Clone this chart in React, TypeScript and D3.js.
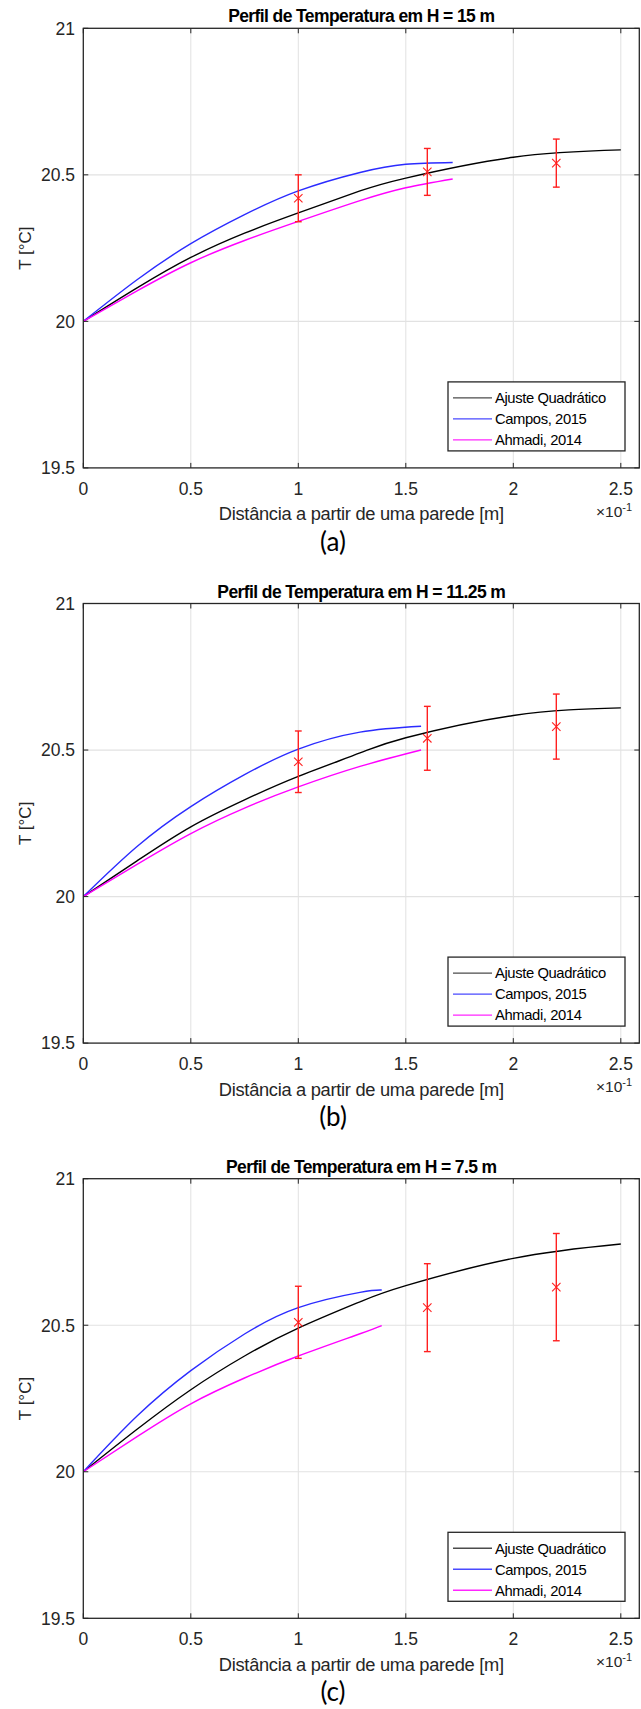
import React from "react";
import * as d3 from "d3";

// ---------- data ----------
const xTicks = [0, 0.5, 1, 1.5, 2, 2.5];
const yTicks = [19.5, 20, 20.5, 21];
const xTickLabels = ["0", "0.5", "1", "1.5", "2", "2.5"];
const yTickLabels = ["19.5", "20", "20.5", "21"];
const seriesNames = ["Ajuste Quadrático", "Campos, 2015", "Ahmadi, 2014"];
const titles = [
  "Perfil de Temperatura em H = 15 m",
  "Perfil de Temperatura em H = 11.25 m",
  "Perfil de Temperatura em H = 7.5 m",
];
const panelLabels = ["(a)", "(b)", "(c)"];
const xLabel = "Distância a partir de uma parede [m]";
const yLabel = "T [°C]";

// (a) H = 15 m
const quadX_a = [0, 0.25, 0.5, 0.75, 1, 1.287, 1.5, 2, 2.5];
const quadT_a = [20, 20.114, 20.218, 20.301, 20.37, 20.445, 20.489, 20.56, 20.585];
const camposX_a = [0, 0.25, 0.5, 0.75, 1, 1.287, 1.5, 1.718];
const camposT_a = [20, 20.142, 20.265, 20.364, 20.445, 20.508, 20.536, 20.542];
const ahmadiX_a = [0, 0.25, 0.5, 0.75, 1, 1.287, 1.5, 1.718];
const ahmadiT_a = [20, 20.104, 20.2, 20.276, 20.341, 20.412, 20.456, 20.486];
const expT_a = [20.42, 20.51, 20.54];
const expErr_a = [0.08, 0.08, 0.082];

// (b) H = 11.25 m
const quadX_b = [0, 0.25, 0.5, 0.75, 1, 1.287, 1.5, 2, 2.5];
const quadT_b = [20, 20.122, 20.238, 20.33, 20.41, 20.49, 20.542, 20.618, 20.644];
const camposX_b = [0, 0.25, 0.5, 0.75, 1, 1.287, 1.571];
const camposT_b = [20, 20.171, 20.307, 20.416, 20.503, 20.561, 20.581];
const ahmadiX_b = [0, 0.25, 0.5, 0.75, 1, 1.287, 1.571];
const ahmadiT_b = [20, 20.11, 20.215, 20.302, 20.374, 20.444, 20.5];
const expT_b = [20.46, 20.54, 20.58];
const expErr_b = [0.105, 0.109, 0.111];

// (c) H = 7.5 m
const quadX_c = [0, 0.25, 0.5, 0.75, 1, 1.287, 1.5, 2, 2.5];
const quadT_c = [20, 20.145, 20.28, 20.395, 20.49, 20.58, 20.635, 20.728, 20.777];
const camposX_c = [0, 0.25, 0.5, 0.75, 1, 1.287, 1.388];
const camposT_c = [20, 20.19, 20.345, 20.47, 20.56, 20.612, 20.62];
const ahmadiX_c = [0, 0.25, 0.5, 0.75, 1, 1.287, 1.388];
const ahmadiT_c = [20, 20.12, 20.232, 20.32, 20.395, 20.471, 20.499];
const expT_c = [20.51, 20.56, 20.63];
const expErr_c = [0.123, 0.15, 0.183];

const expX = [1, 1.6, 2.2];
const xDomain = [0, 2.586];
const yDomain = [19.5, 21];

const panelTops = [28.3, 603.5, 1178.7];

const panels = [
  { quadX: quadX_a, quadT: quadT_a, camposX: camposX_a, camposT: camposT_a, ahmadiX: ahmadiX_a, ahmadiT: ahmadiT_a, expT: expT_a, expErr: expErr_a },
  { quadX: quadX_b, quadT: quadT_b, camposX: camposX_b, camposT: camposT_b, ahmadiX: ahmadiX_b, ahmadiT: ahmadiT_b, expT: expT_b, expErr: expErr_b },
  { quadX: quadX_c, quadT: quadT_c, camposX: camposX_c, camposT: camposT_c, ahmadiX: ahmadiX_c, ahmadiT: ahmadiT_c, expT: expT_c, expErr: expErr_c },
];

// ---------- styles ----------
const AX = "#262626";
const GRID = "#e2e2e2";
const COLORS = ["#000000", "#2b2bff", "#ff00ff"];
const RED = "#ff2020";
const FONT = "'Liberation Sans', Arial, Helvetica, sans-serif";

const LEFT = 83.3;
const RIGHT = 639.3;
const PH = 439.6;

function Panel({ idx }: { idx: number }) {
  const p = panels[idx];
  const top = panelTops[idx];
  const bottom = top + PH;
  const x = d3.scaleLinear().domain(xDomain).range([LEFT, RIGHT]);
  const y = d3.scaleLinear().domain(yDomain).range([bottom, top]);
  const line = (xs: number[], ts: number[]) =>
    d3
      .line<number>()
      .x((_, i) => x(xs[i]))
      .y((d) => y(d))
      .curve(d3.curveNatural)(ts) || "";
  const tl = 5;
  const cx = (LEFT + RIGHT) / 2;
  const lgL = 448, lgR = 625, lgT = bottom - 86, lgB = bottom - 17;
  const rowY = [bottom - 70, bottom - 49, bottom - 28];
  return (
    <g>
      {/* grid */}
      {xTicks.filter((t) => t > 0).map((t) => (
        <line key={"gx" + t} x1={x(t)} x2={x(t)} y1={top} y2={bottom} stroke={GRID} strokeWidth={1} />
      ))}
      {yTicks.filter((t) => t > 19.5 && t < 21).map((t) => (
        <line key={"gy" + t} x1={LEFT} x2={RIGHT} y1={y(t)} y2={y(t)} stroke={GRID} strokeWidth={1.2} />
      ))}
      {/* curves */}
      <path d={line(p.quadX, p.quadT)} fill="none" stroke={COLORS[0]} strokeWidth={1.4} />
      <path d={line(p.camposX, p.camposT)} fill="none" stroke={COLORS[1]} strokeWidth={1.4} />
      <path d={line(p.ahmadiX, p.ahmadiT)} fill="none" stroke={COLORS[2]} strokeWidth={1.4} />
      {/* error bars */}
      {expX.map((ex, i) => {
        const X = x(ex);
        const yt = y(p.expT[i] + p.expErr[i]);
        const yb = y(p.expT[i] - p.expErr[i]);
        const ym = y(p.expT[i]);
        const c = 3.4, m = 4.2;
        return (
          <g key={"e" + i} stroke={RED} strokeWidth={1.4} fill="none">
            <line x1={X} x2={X} y1={yt} y2={yb} />
            <line x1={X - c} x2={X + c} y1={yt} y2={yt} />
            <line x1={X - c} x2={X + c} y1={yb} y2={yb} />
            <line x1={X - m} x2={X + m} y1={ym - m} y2={ym + m} strokeWidth={1.1} />
            <line x1={X - m} x2={X + m} y1={ym + m} y2={ym - m} strokeWidth={1.1} />
          </g>
        );
      })}
      {/* box */}
      <rect x={LEFT} y={top} width={RIGHT - LEFT} height={PH} fill="none" stroke={AX} strokeWidth={1.3} />
      {/* ticks */}
      {xTicks.map((t) => (
        <g key={"tx" + t} stroke={AX} strokeWidth={1}>
          <line x1={x(t)} x2={x(t)} y1={bottom} y2={bottom - tl} />
          <line x1={x(t)} x2={x(t)} y1={top} y2={top + tl} />
        </g>
      ))}
      {yTicks.map((t) => (
        <g key={"ty" + t} stroke={AX} strokeWidth={1}>
          <line x1={LEFT} x2={LEFT + tl} y1={y(t)} y2={y(t)} />
          <line x1={RIGHT} x2={RIGHT - tl} y1={y(t)} y2={y(t)} />
        </g>
      ))}
      {/* tick labels */}
      {xTicks.map((t, i) => (
        <text key={"lx" + t} x={x(t)} y={bottom + 27} textAnchor="middle" fontSize={17.5} fill={AX} fontFamily={FONT}>
          {xTickLabels[i]}
        </text>
      ))}
      {yTicks.map((t, i) => (
        <text key={"ly" + t} x={75} y={y(t) + 6.3} textAnchor="end" fontSize={17.5} fill={AX} fontFamily={FONT}>
          {yTickLabels[i]}
        </text>
      ))}
      {/* exponent */}
      <text x={596} y={bottom + 49} fontSize={15.5} fill={AX} fontFamily={FONT}>
        ×10<tspan dy={-6} fontSize={11}>-1</tspan>
      </text>
      {/* title */}
      <text x={cx} y={top - 6} textAnchor="middle" fontSize={17.5} fontWeight="bold" fill="#000" fontFamily={FONT} letterSpacing={-0.6}>
        {titles[idx]}
      </text>
      {/* axis labels */}
      <text x={cx} y={bottom + 52.5} textAnchor="middle" fontSize={18.3} fill={AX} fontFamily={FONT} letterSpacing={-0.3}>
        {xLabel}
      </text>
      <text transform={`translate(31, ${(top + bottom) / 2}) rotate(-90)`} textAnchor="middle" fontSize={17} fill={AX} fontFamily={FONT}>
        {yLabel}
      </text>
      {/* legend */}
      <rect x={lgL} y={lgT} width={lgR - lgL} height={lgB - lgT} fill="#fff" stroke={AX} strokeWidth={1.3} />
      {seriesNames.map((n, i) => (
        <g key={"lg" + i}>
          <line x1={453} x2={492} y1={rowY[i]} y2={rowY[i]} stroke={COLORS[i]} strokeWidth={1.4} opacity={i === 0 ? 0.7 : 0.85} />
          <text x={495} y={rowY[i] + 5.2} fontSize={14.8} fill="#000" fontFamily={FONT} letterSpacing={-0.4}>
            {n}
          </text>
        </g>
      ))}
      {/* panel label */}
      <text x={333} y={bottom + 83} textAnchor="middle" fontSize={26} fill="#000" fontFamily="Lato, 'Open Sans', sans-serif">
        {panelLabels[idx]}
      </text>
    </g>
  );
}

export default function App() {
  return (
    <svg
      width={641}
      height={1709}
      style={{ position: "absolute", left: 0, top: 0, background: "#fff" }}
    >
      <rect x={0} y={0} width={641} height={1709} fill="#fff" />
      {[0, 1, 2].map((i) => (
        <Panel key={i} idx={i} />
      ))}
    </svg>
  );
}
